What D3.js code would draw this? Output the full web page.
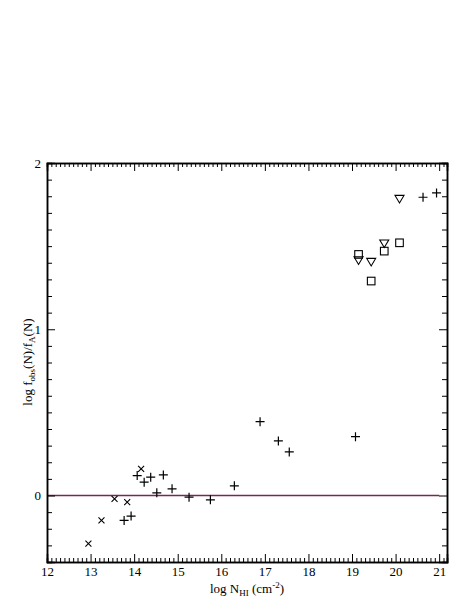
<!DOCTYPE html>
<html lang="en">
<head>
    <meta charset="UTF-8">
    <title>log f_obs / f_A</title>
    <script src="https://d3js.org/d3.v7.min.js"></script>
    <style>
        body { margin: 0; background: #fff; }
        text { font-family: "Liberation Serif", "DejaVu Serif", serif; fill: #000; }
        .axis path, .axis line { stroke: #000; }
        .axis text { font-size: 13px; }
    </style>
</head>
<body>
    <div id="chart"></div>
    <script>
        // data
        var crossX = [12.95, 13.25, 13.55, 13.84, 14.16];
        var crossY = [-0.29, -0.15, -0.02, -0.04, 0.16];

        var plusX = [13.77, 13.93, 14.07, 14.23, 14.38, 14.52, 14.67, 14.87, 15.26, 15.75,
                     16.30, 16.89, 17.31, 17.56, 19.08, 20.63, 20.94];
        var plusY = [-0.15, -0.124, 0.12, 0.08, 0.11, 0.016, 0.124, 0.04, -0.01, -0.026,
                     0.058, 0.444, 0.328, 0.262, 0.354, 1.794, 1.82];

        var squareX = [19.15, 19.44, 19.74, 20.09];
        var squareY = [1.45, 1.29, 1.47, 1.52];

        var triX = [19.15, 19.44, 19.74, 20.09];
        var triY = [1.414, 1.405, 1.516, 1.784];

        var xTicks = [12, 13, 14, 15, 16, 17, 18, 19, 20, 21];
        var yTicks = [0, 1, 2];

        var w = 471,
            h = 609;
        var pLeft = 47, pRight = 447, pTop = 163, pBottom = 562;

        var svg = d3.select("#chart")
            .append("svg")
            .attr("width", w)
            .attr("height", h);

        var x = d3.scaleLinear().domain([12, 21.18]).range([pLeft, pRight]);
        var y = d3.scaleLinear().domain([-0.4, 2]).range([pBottom, pTop]);

        var xMinor = d3.range(121, 212).map(function(d) { return d / 10; })
            .filter(function(d) { return Math.abs(d - Math.round(d)) > 1e-6; });
        var yMinor = d3.range(-4, 20).map(function(d) { return d / 10; })
            .filter(function(d) { return Math.abs(d - Math.round(d)) > 1e-6; });

        // zero line
        svg.append("line")
            .attr("x1", x(12)).attr("x2", x(21))
            .attr("y1", y(0)).attr("y2", y(0))
            .attr("stroke", "#7b2456")
            .attr("stroke-width", 1.5);

        function addAxis(axis, tr, cls) {
            var g = svg.append("g")
                .attr("class", "axis " + cls)
                .attr("transform", tr)
                .call(axis);
            g.select(".domain").attr("stroke-width", 1.5);
            g.selectAll(".tick line").attr("stroke-width", 1);
            return g;
        }

        // minor ticks
        addAxis(d3.axisBottom(x).tickValues(xMinor).tickSize(-4).tickFormat(""), "translate(0," + pBottom + ")", "minor");
        addAxis(d3.axisTop(x).tickValues(xMinor).tickSize(-4).tickFormat(""), "translate(0," + pTop + ")", "minor");
        addAxis(d3.axisLeft(y).tickValues(yMinor).tickSize(-5).tickFormat(""), "translate(" + pLeft + ",0)", "minor");
        addAxis(d3.axisRight(y).tickValues(yMinor).tickSize(-5).tickFormat(""), "translate(" + pRight + ",0)", "minor");

        // major ticks
        addAxis(d3.axisBottom(x).tickValues(xTicks).tickSize(-8).tickPadding(5).tickFormat(d3.format("d")),
            "translate(0," + pBottom + ")", "major");
        addAxis(d3.axisTop(x).tickValues(xTicks).tickSize(-8).tickFormat(""), "translate(0," + pTop + ")", "major");
        addAxis(d3.axisLeft(y).tickValues(yTicks).tickSize(-8).tickPadding(6).tickFormat(d3.format("d")),
            "translate(" + pLeft + ",0)", "major");
        addAxis(d3.axisRight(y).tickValues(yTicks).tickSize(-8).tickFormat(""), "translate(" + pRight + ",0)", "major");

        // markers
        var crosses = crossX.map(function(d, i) { return [d, crossY[i]]; });
        var pluses = plusX.map(function(d, i) { return [d, plusY[i]]; });
        var squares = squareX.map(function(d, i) { return [d, squareY[i]]; });
        var tris = triX.map(function(d, i) { return [d, triY[i]]; });

        svg.selectAll(".cross")
            .data(crosses)
            .enter()
            .append("path")
            .attr("class", "cross")
            .attr("d", function(d) {
                var cx = x(d[0]), cy = y(d[1]), s = 3;
                return "M" + (cx - s) + "," + (cy - s) + "L" + (cx + s) + "," + (cy + s) +
                       "M" + (cx - s) + "," + (cy + s) + "L" + (cx + s) + "," + (cy - s);
            })
            .attr("stroke", "#000").attr("stroke-width", 1.1).attr("fill", "none");

        svg.selectAll(".plus")
            .data(pluses)
            .enter()
            .append("path")
            .attr("class", "plus")
            .attr("d", function(d) {
                var cx = x(d[0]), cy = y(d[1]), s = 4.5;
                return "M" + (cx - s) + "," + cy + "L" + (cx + s) + "," + cy +
                       "M" + cx + "," + (cy - s) + "L" + cx + "," + (cy + s);
            })
            .attr("stroke", "#000").attr("stroke-width", 1.2).attr("fill", "none");

        svg.selectAll(".square")
            .data(squares)
            .enter()
            .append("rect")
            .attr("class", "square")
            .attr("x", function(d) { return x(d[0]) - 3.8; })
            .attr("y", function(d) { return y(d[1]) - 3.8; })
            .attr("width", 7.6)
            .attr("height", 7.6)
            .attr("stroke", "#000").attr("stroke-width", 1.1).attr("fill", "none");

        svg.selectAll(".tri")
            .data(tris)
            .enter()
            .append("path")
            .attr("class", "tri")
            .attr("d", function(d) {
                var cx = x(d[0]), cy = y(d[1]);
                return "M" + (cx - 4.5) + "," + (cy - 3.5) + "L" + (cx + 4.5) + "," + (cy - 3.5) +
                       "L" + cx + "," + (cy + 4) + "Z";
            })
            .attr("stroke", "#000").attr("stroke-width", 1.1).attr("fill", "none");

        // axis titles
        var xl = svg.append("text")
            .attr("x", 247)
            .attr("y", 593)
            .attr("text-anchor", "middle")
            .attr("font-size", "13px");
        xl.append("tspan").text("log N");
        xl.append("tspan").attr("dy", 3).attr("font-size", "9px").text("HI");
        xl.append("tspan").attr("dy", -3).text(" (cm");
        xl.append("tspan").attr("dy", -5).attr("font-size", "9px").text("-2");
        xl.append("tspan").attr("dy", 5).text(")");

        var yl = svg.append("text")
            .attr("transform", "translate(32,362) rotate(-90)")
            .attr("text-anchor", "middle")
            .attr("font-size", "13px");
        yl.append("tspan").text("log f");
        yl.append("tspan").attr("dy", 3).attr("font-size", "9px").text("obs");
        yl.append("tspan").attr("dy", -3).text("(N)/f");
        yl.append("tspan").attr("dy", 3).attr("font-size", "9px").text("A");
        yl.append("tspan").attr("dy", -3).text("(N)");
    </script>
</body>
</html>
